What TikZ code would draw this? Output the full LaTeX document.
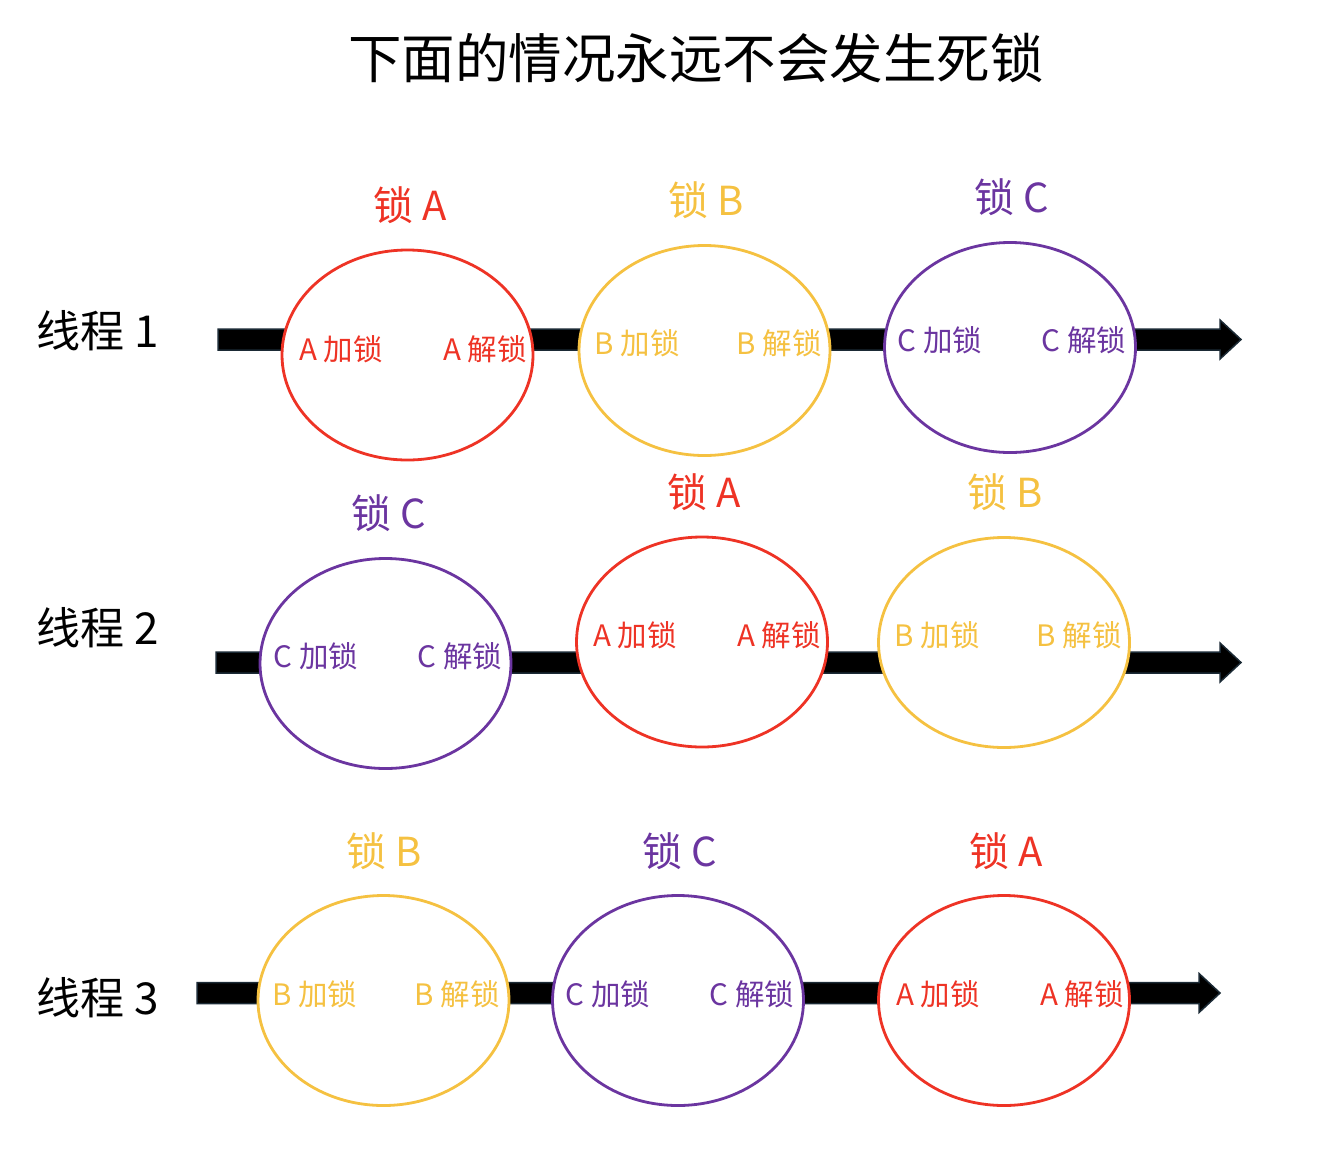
\documentclass[tikz,border=0pt]{standalone}
\usepackage{fontspec}
\setmainfont{Noto Sans CJK SC}
\usetikzlibrary{calc}
\definecolor{lred}{HTML}{EE3325}
\definecolor{lyel}{HTML}{F5C141}
\definecolor{lpur}{HTML}{6B35A0}
\definecolor{abord}{HTML}{1B2A35}
\tikzset{
  lockell/.style={draw=#1, line width=2.8pt, fill=white, ellipse, minimum width=251pt, minimum height=210pt, inner sep=0pt},
  locklbl/.style={text=#1, font=\fontsize{40}{48}\selectfont, inner sep=0pt},
  inlbl/.style={text=#1, font=\fontsize{29.5}{35}\selectfont, inner sep=0pt},
  thrlbl/.style={text=black, font=\fontsize{44}{52}\selectfont, inner sep=0pt},
  bigarrow/.style={fill=black, draw=abord, line width=1.5pt, line join=miter},
}
\usetikzlibrary{shapes.geometric}
\newcommand{\fatarrow}[2]{%
  \draw[bigarrow] ($(#1)+(0,-10.5)$) -- ($(#2)+(-21,-10.5)$) -- ($(#2)+(-21,-19.5)$) -- (#2)
    -- ($(#2)+(-21,19.5)$) -- ($(#2)+(-21,10.5)$) -- ($(#1)+(0,10.5)$) -- cycle;}
\begin{document}
\begin{tikzpicture}[x=1pt,y=-1pt]
\useasboundingbox (0,0) rectangle (1324,1170);
% title
\node[text=black, font=\fontsize{53.5}{64}\selectfont, inner sep=0pt] (title) at (696,58) {下面的情况永远不会发生死锁};
% thread labels
\node[thrlbl] (t1) at (98,331) {线程 1};
\node[thrlbl] (t2) at (98,628) {线程 2};
\node[thrlbl] (t3) at (98,998) {线程 3};
% arrows
\coordinate (s1) at (218,339.5); \coordinate (e1) at (1241,339.5);
\coordinate (s2) at (216,662.5); \coordinate (e2) at (1241,662.5);
\coordinate (s3) at (197,993); \coordinate (e3) at (1220,993);
\fatarrow{s1}{e1}
\fatarrow{s2}{e2}
\fatarrow{s3}{e3}
% row 1
\node[lockell=lred] (r1a) at (407.5,355) {};
\node[lockell=lyel] (r1b) at (704.5,350.5) {};
\node[lockell=lpur] (r1c) at (1010,347.5) {};
\node[locklbl=lred] (r1al) at (410,205) {锁 A};
\node[locklbl=lyel] (r1bl) at (706,200) {锁 B};
\node[locklbl=lpur] (r1cl) at (1012,197) {锁 C};
\node[inlbl=lred] (r1a1) at (341,349) {A 加锁};
\node[inlbl=lred] (r1a2) at (485,349) {A 解锁};
\node[inlbl=lyel] (r1b1) at (637,343) {B 加锁};
\node[inlbl=lyel] (r1b2) at (779,343) {B 解锁};
\node[inlbl=lpur] (r1c1) at (940,340) {C 加锁};
\node[inlbl=lpur] (r1c2) at (1084,340) {C 解锁};
% row 2
\node[lockell=lpur] (r2c) at (385.5,663.5) {};
\node[lockell=lred] (r2a) at (702,642) {};
\node[lockell=lyel] (r2b) at (1004,642.5) {};
\node[locklbl=lpur] (r2cl) at (389,513) {锁 C};
\node[locklbl=lred] (r2al) at (704,492) {锁 A};
\node[locklbl=lyel] (r2bl) at (1005,492) {锁 B};
\node[inlbl=lpur] (r2c1) at (316,656) {C 加锁};
\node[inlbl=lpur] (r2c2) at (460,656) {C 解锁};
\node[inlbl=lred] (r2a1) at (635,635) {A 加锁};
\node[inlbl=lred] (r2a2) at (779,635) {A 解锁};
\node[inlbl=lyel] (r2b1) at (937,635) {B 加锁};
\node[inlbl=lyel] (r2b2) at (1079,635) {B 解锁};
% row 3
\node[lockell=lyel] (r3b) at (383.5,1000.5) {};
\node[lockell=lpur] (r3c) at (678,1000.5) {};
\node[lockell=lred] (r3a) at (1004,1000.5) {};
\node[locklbl=lyel] (r3bl) at (384,851) {锁 B};
\node[locklbl=lpur] (r3cl) at (680,851) {锁 C};
\node[locklbl=lred] (r3al) at (1006,851) {锁 A};
\node[inlbl=lyel] (r3b1) at (315,994) {B 加锁};
\node[inlbl=lyel] (r3b2) at (457,994) {B 解锁};
\node[inlbl=lpur] (r3c1) at (608,994) {C 加锁};
\node[inlbl=lpur] (r3c2) at (752,994) {C 解锁};
\node[inlbl=lred] (r3a1) at (938,994) {A 加锁};
\node[inlbl=lred] (r3a2) at (1082,994) {A 解锁};
\end{tikzpicture}
\end{document}
